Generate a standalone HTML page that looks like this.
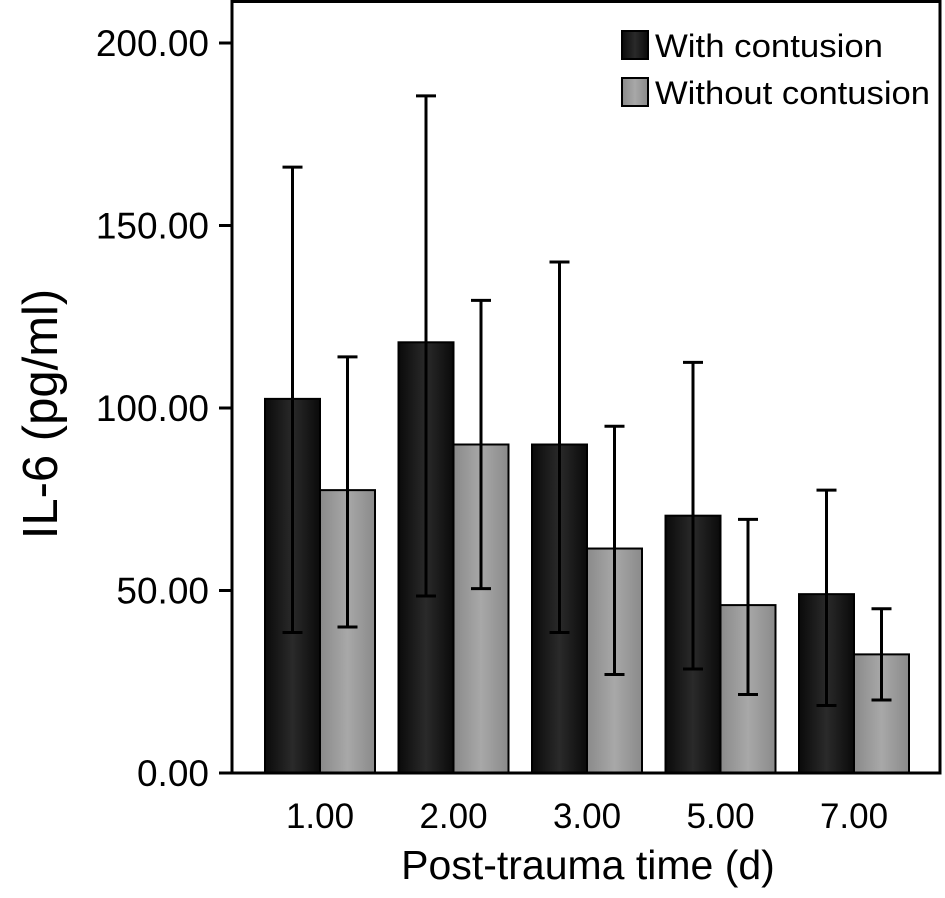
<!DOCTYPE html>
<html><head><meta charset="utf-8"><style>
html,body{margin:0;padding:0;background:#fff;}
svg text{font-family:"Liberation Sans",Arial,sans-serif;fill:#000;}
</style></head><body>
<svg id="chart" width="945" height="893" viewBox="0 0 945 893" xmlns="http://www.w3.org/2000/svg">
<defs>
<linearGradient id="gDark" x1="0" x2="1" y1="0" y2="0">
<stop offset="0" stop-color="#0a0a0a"/><stop offset="0.5" stop-color="#2a2a2a"/><stop offset="1" stop-color="#0a0a0a"/></linearGradient>
<linearGradient id="gLight" x1="0" x2="1" y1="0" y2="0">
<stop offset="0" stop-color="#8a8a8a"/><stop offset="0.5" stop-color="#a8a8a8"/><stop offset="1" stop-color="#8a8a8a"/></linearGradient>
</defs>
<g id="plot"></g>
</svg>
<script>
const categories=["1.00","2.00","3.00","5.00","7.00"];
const withMean=[102.5,118,90,70.5,49];
const withUpper=[166,185.5,140,112.5,77.5];
const withLower=[38.5,48.5,38.5,28.5,18.5];
const withoutMean=[77.5,90,61.5,46,32.5];
const withoutUpper=[114,129.5,95,69.5,45];
const withoutLower=[40,50.5,27,21.5,20];
const yTicks=[0,50,100,150,200];
const yTickLabels=["0.00","50.00","100.00","150.00","200.00"];

const NS="http://www.w3.org/2000/svg";
const g=document.getElementById('plot');
const X0=232,X1=940,Y0=773,YTOP=43;
const y=v=>Y0-(v/200)*(Y0-YTOP);
const step=133.5,firstCenter=320;
const xc=i=>firstCenter+i*step;
const barW=55;
function mk(t,a){const e=document.createElementNS(NS,t);for(const k in a)e.setAttribute(k,a[k]);g.appendChild(e);return e;}

for(let i=0;i<categories.length;i++){
  const c=xc(i);
  let r=mk('rect',{x:c-barW,y:y(withMean[i]),width:barW,height:Y0-y(withMean[i]),fill:'url(#gDark)',stroke:'#000','stroke-width':2});
  
  
  r=mk('rect',{x:c,y:y(withoutMean[i]),width:barW,height:Y0-y(withoutMean[i]),fill:'url(#gLight)',stroke:'#000','stroke-width':2});
  
  
  const errs=[[c-barW/2,withUpper[i],withLower[i],'with'],[c+barW/2,withoutUpper[i],withoutLower[i],'without']];
  for(const [ex,u,l,n] of errs){
    const eg=document.createElementNS(NS,'g');
    
    
    g.appendChild(eg);
    const ls=[[ex,y(u),ex,y(l)],[ex-10,y(u),ex+10,y(u)],[ex-10,y(l),ex+10,y(l)]];
    for(const q of ls){const ln=document.createElementNS(NS,'line');ln.setAttribute('x1',q[0]);ln.setAttribute('y1',q[1]);ln.setAttribute('x2',q[2]);ln.setAttribute('y2',q[3]);ln.setAttribute('stroke','#000');ln.setAttribute('stroke-width',3);eg.appendChild(ln);}
  }
  const t=mk('text',{x:c,y:828,'font-size':35,'text-anchor':'middle'});
  t.textContent=categories[i];
  
  
}
const frame=mk('rect',{x:X0,y:1.5,width:X1-X0,height:Y0-1.5,fill:'none',stroke:'#000','stroke-width':3});


for(let i=0;i<yTicks.length;i++){
  const ty=y(yTicks[i]);
  const tk=mk('line',{x1:219,y1:ty,x2:X0,y2:ty,stroke:'#000','stroke-width':3});
  
  
  const t=mk('text',{x:209,y:ty+13,'font-size':37,'text-anchor':'end'});
  t.textContent=yTickLabels[i];
  
  
}
let t=mk('text',{x:588,y:879,'font-size':41,'text-anchor':'middle'});
t.textContent='Post-trauma time (d)';


t=mk('text',{x:0,y:0,'font-size':49,'text-anchor':'middle',transform:'translate(57,414) rotate(-90)'});
t.textContent='IL-6 (pg/ml)';


const leg=[['With contusion','url(#gDark)',31],['Without contusion','url(#gLight)',78]];
for(const [lab,fill,ly] of leg){
  const r=mk('rect',{x:622,y:ly,width:26,height:28,fill:fill,stroke:'#000','stroke-width':2});
  
  
  const lt=mk('text',{x:655,y:ly+26,'font-size':32,textLength:(lab.length>15?275:228),lengthAdjust:'spacingAndGlyphs'});
  lt.textContent=lab;
  
  
}
</script>
</body></html>
